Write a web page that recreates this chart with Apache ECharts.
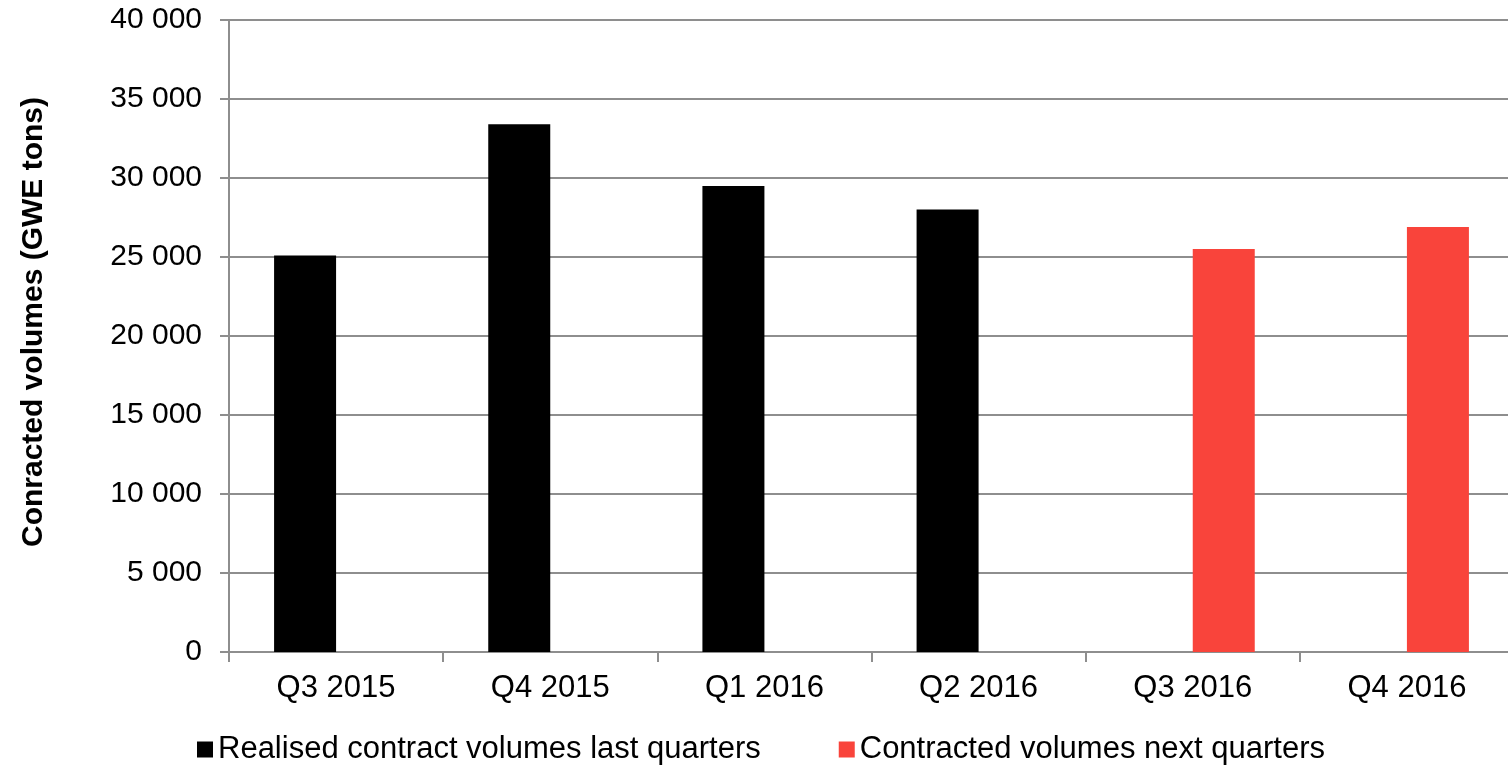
<!DOCTYPE html>
<html>
<head>
<meta charset="utf-8">
<script src="https://cdn.jsdelivr.net/npm/echarts@6/dist/echarts.min.js"></script>
<style>
  html, body { margin: 0; padding: 0; background: #fff; }
  #main { width: 1508px; height: 768px; }
</style>
</head>
<body>
<div id="main"></div>
<script>
// ===================== data =====================
const categories = ['Q3 2015', 'Q4 2015', 'Q1 2016', 'Q2 2016', 'Q3 2016', 'Q4 2016']
const realised = [25100, 33400, 29500, 28000, null, null]
const contracted = [null, null, null, null, 25500, 26900]
const yTicks = { min: 0, max: 40000, interval: 5000 }

// 40000 -> "40 000"
const fmt = (v) => String(v).replace(/\B(?=(\d{3})+(?!\d))/g, ' ')

const gridColor = '#8e8e8e'
const font = 'Liberation Sans, Arial, sans-serif'

// ===================== init =====================
const myChart = echarts.init(document.getElementById('main'))
const option = {
  animation: false,
  textStyle: { fontFamily: font },
  // the plot runs a few px past the right edge of the picture
  grid: { left: 229, width: 1285, top: 20, bottom: 116, outerBoundsMode: 'none' },
  legend: {
    top: 734,
    left: 197,
    padding: 0,
    itemWidth: 16,
    itemHeight: 16,
    itemGap: 78,
    icon: 'rect',
    textStyle: { fontSize: 31, color: '#000', fontFamily: font },
    data: ['Realised contract volumes last quarters', 'Contracted volumes next quarters'],
  },
  xAxis: {
    type: 'category',
    data: categories,
    axisLine: { show: true, lineStyle: { color: gridColor, width: 2 } },
    axisTick: { show: true, length: 10, lineStyle: { color: gridColor, width: 2 } },
    axisLabel: { color: '#000', fontSize: 31, margin: 21, fontFamily: font },
  },
  yAxis: {
    type: 'value',
    min: yTicks.min,
    max: yTicks.max,
    interval: yTicks.interval,
    name: 'Conracted volumes (GWE tons)',
    nameLocation: 'middle',
    nameGap: 180,
    nameTextStyle: { fontSize: 30, fontWeight: 'bold', color: '#000', fontFamily: font, padding: [0, 0, 0, 28] },
    axisLine: { show: true, lineStyle: { color: gridColor, width: 2 } },
    axisTick: { show: true, length: 9, lineStyle: { color: gridColor, width: 2 } },
    axisLabel: { color: '#000', fontSize: 30, margin: 27, formatter: fmt, fontFamily: font },
    splitLine: { show: true, lineStyle: { color: gridColor, width: 2 } },
  },
  series: [
    {
      name: 'Realised contract volumes last quarters',
      type: 'bar',
      data: realised,
      barWidth: 62,
      barGap: '0%',
      itemStyle: { color: '#000000' },
    },
    {
      name: 'Contracted volumes next quarters',
      type: 'bar',
      data: contracted,
      barWidth: 62,
      barGap: '0%',
      itemStyle: { color: '#f9443b' },
    },
  ],
}
myChart.setOption(option)
</script>
</body>
</html>
